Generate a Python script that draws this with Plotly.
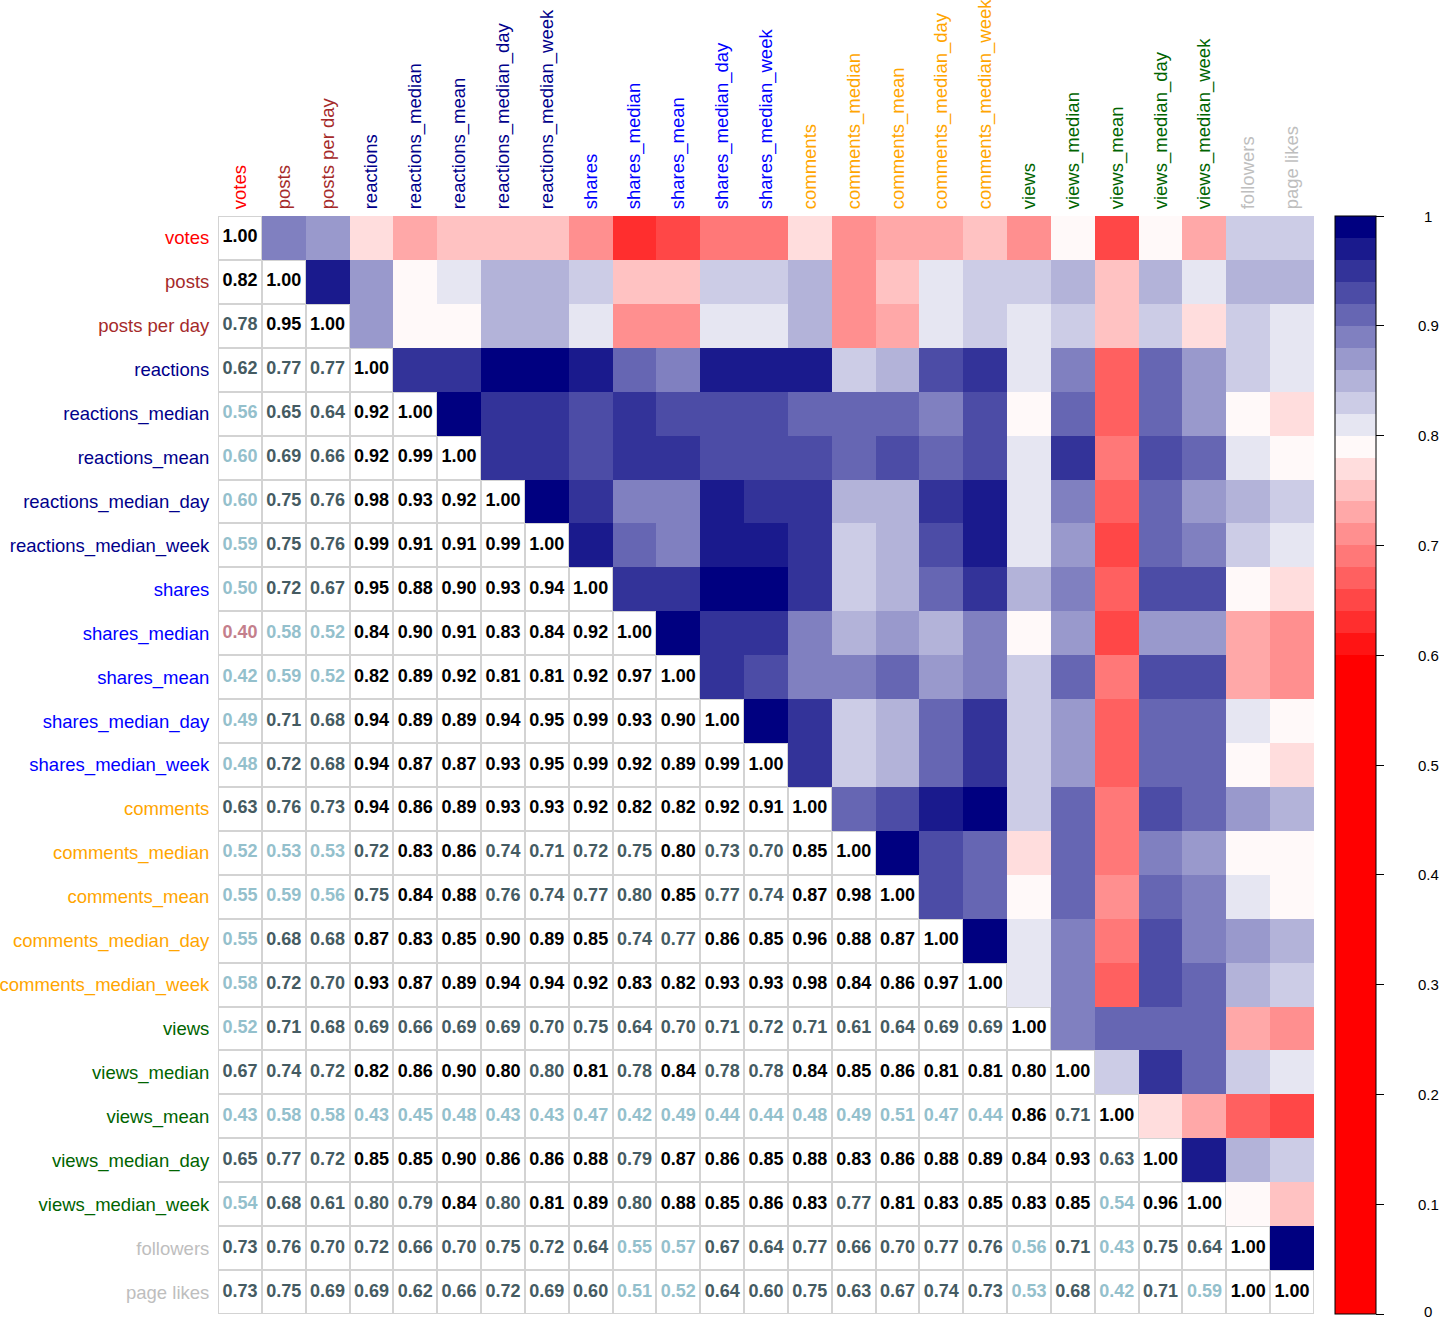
import plotly.graph_objects as go

# ---------------- data ----------------
labels = ["votes", "posts", "posts per day", "reactions", "reactions_median", "reactions_mean",
          "reactions_median_day", "reactions_median_week", "shares", "shares_median", "shares_mean",
          "shares_median_day", "shares_median_week", "comments", "comments_median", "comments_mean",
          "comments_median_day", "comments_median_week", "views", "views_median", "views_mean",
          "views_median_day", "views_median_week", "followers", "page likes"]

groups = ["votes", "posts", "posts",
          "reactions", "reactions", "reactions", "reactions", "reactions",
          "shares", "shares", "shares", "shares", "shares",
          "comments", "comments", "comments", "comments", "comments",
          "views", "views", "views", "views", "views",
          "page", "page"]

# lower triangle (row i, columns 0..i-1): printed coefficients
lower = [
    [],
    [0.82],
    [0.78, 0.95],
    [0.62, 0.77, 0.77],
    [0.56, 0.65, 0.64, 0.92],
    [0.598, 0.69, 0.66, 0.92, 0.99],
    [0.598, 0.75, 0.76, 0.98, 0.93, 0.92],
    [0.59, 0.75, 0.76, 0.99, 0.91, 0.91, 0.99],
    [0.50, 0.72, 0.67, 0.95, 0.88, 0.90, 0.93, 0.94],
    [0.398, 0.58, 0.52, 0.84, 0.90, 0.91, 0.83, 0.84, 0.92],
    [0.42, 0.59, 0.52, 0.82, 0.89, 0.92, 0.81, 0.81, 0.92, 0.97],
    [0.49, 0.71, 0.68, 0.94, 0.89, 0.89, 0.94, 0.95, 0.99, 0.93, 0.90],
    [0.48, 0.72, 0.68, 0.94, 0.87, 0.87, 0.93, 0.95, 0.99, 0.92, 0.89, 0.99],
    [0.63, 0.76, 0.73, 0.94, 0.86, 0.89, 0.93, 0.93, 0.92, 0.82, 0.82, 0.92, 0.91],
    [0.52, 0.53, 0.53, 0.72, 0.83, 0.86, 0.74, 0.71, 0.72, 0.75, 0.802, 0.73, 0.70, 0.85],
    [0.55, 0.59, 0.56, 0.75, 0.84, 0.88, 0.76, 0.74, 0.77, 0.798, 0.85, 0.77, 0.74, 0.87, 0.98],
    [0.55, 0.68, 0.68, 0.87, 0.83, 0.85, 0.90, 0.89, 0.85, 0.74, 0.77, 0.86, 0.85, 0.96, 0.88, 0.87],
    [0.58, 0.72, 0.70, 0.93, 0.87, 0.89, 0.94, 0.94, 0.92, 0.83, 0.82, 0.93, 0.93, 0.98, 0.84, 0.86, 0.97],
    [0.52, 0.71, 0.68, 0.69, 0.66, 0.69, 0.69, 0.70, 0.75, 0.64, 0.70, 0.71, 0.72, 0.71, 0.61, 0.64, 0.69, 0.69],
    [0.67, 0.74, 0.72, 0.82, 0.86, 0.90, 0.802, 0.798, 0.81, 0.78, 0.84, 0.78, 0.78, 0.84, 0.85, 0.86, 0.81, 0.81, 0.801],
    [0.43, 0.58, 0.58, 0.43, 0.45, 0.48, 0.43, 0.43, 0.47, 0.42, 0.49, 0.44, 0.44, 0.48, 0.49, 0.51, 0.47, 0.44, 0.86, 0.71],
    [0.65, 0.77, 0.72, 0.85, 0.85, 0.90, 0.86, 0.86, 0.88, 0.79, 0.87, 0.86, 0.85, 0.88, 0.83, 0.86, 0.88, 0.89, 0.84, 0.93, 0.63],
    [0.54, 0.68, 0.61, 0.798, 0.79, 0.84, 0.798, 0.81, 0.89, 0.798, 0.88, 0.85, 0.86, 0.83, 0.77, 0.81, 0.83, 0.85, 0.83, 0.85, 0.54, 0.96],
    [0.73, 0.76, 0.70, 0.72, 0.66, 0.70, 0.75, 0.72, 0.64, 0.55, 0.57, 0.67, 0.64, 0.77, 0.66, 0.70, 0.77, 0.76, 0.56, 0.71, 0.43, 0.75, 0.64],
    [0.73, 0.75, 0.69, 0.69, 0.62, 0.66, 0.72, 0.69, 0.602, 0.51, 0.52, 0.64, 0.602, 0.75, 0.63, 0.67, 0.74, 0.73, 0.53, 0.68, 0.42, 0.71, 0.59, 1.00],
]

diagonal = [1.00] * 25

# upper triangle (row i, columns i+1..24): coefficients shown as colour tiles
upper = [
    [0.89, 0.87, 0.77, 0.73, 0.75, 0.75, 0.75, 0.71, 0.63, 0.65, 0.69, 0.69, 0.77, 0.71, 0.73, 0.73, 0.75, 0.71, 0.79, 0.65, 0.79, 0.73, 0.83, 0.83],
    [0.97, 0.87, 0.79, 0.81, 0.85, 0.85, 0.83, 0.75, 0.75, 0.83, 0.83, 0.85, 0.71, 0.75, 0.81, 0.83, 0.83, 0.85, 0.75, 0.85, 0.81, 0.85, 0.85],
    [0.87, 0.79, 0.79, 0.85, 0.85, 0.81, 0.71, 0.71, 0.81, 0.81, 0.85, 0.71, 0.73, 0.81, 0.83, 0.81, 0.83, 0.75, 0.83, 0.77, 0.83, 0.81],
    [0.95, 0.95, 0.99, 0.99, 0.97, 0.91, 0.89, 0.97, 0.97, 0.97, 0.83, 0.85, 0.93, 0.95, 0.81, 0.89, 0.67, 0.91, 0.87, 0.83, 0.81],
    [0.99, 0.95, 0.95, 0.93, 0.95, 0.93, 0.93, 0.93, 0.91, 0.91, 0.91, 0.89, 0.93, 0.79, 0.91, 0.67, 0.91, 0.87, 0.79, 0.77],
    [0.95, 0.95, 0.93, 0.95, 0.95, 0.93, 0.93, 0.93, 0.91, 0.93, 0.91, 0.93, 0.81, 0.95, 0.69, 0.93, 0.91, 0.81, 0.79],
    [0.99, 0.95, 0.89, 0.89, 0.97, 0.95, 0.95, 0.85, 0.85, 0.95, 0.97, 0.81, 0.89, 0.67, 0.91, 0.87, 0.85, 0.83],
    [0.97, 0.91, 0.89, 0.97, 0.97, 0.95, 0.83, 0.85, 0.93, 0.97, 0.81, 0.87, 0.65, 0.91, 0.89, 0.83, 0.81],
    [0.95, 0.95, 0.99, 0.99, 0.95, 0.83, 0.85, 0.91, 0.95, 0.85, 0.89, 0.67, 0.93, 0.93, 0.79, 0.77],
    [0.99, 0.95, 0.95, 0.89, 0.85, 0.87, 0.85, 0.89, 0.79, 0.87, 0.65, 0.87, 0.87, 0.73, 0.71],
    [0.95, 0.93, 0.89, 0.89, 0.91, 0.87, 0.89, 0.83, 0.91, 0.69, 0.93, 0.93, 0.73, 0.71],
    [0.99, 0.95, 0.83, 0.85, 0.91, 0.95, 0.83, 0.87, 0.67, 0.91, 0.91, 0.81, 0.79],
    [0.95, 0.83, 0.85, 0.91, 0.95, 0.83, 0.87, 0.67, 0.91, 0.91, 0.79, 0.77],
    [0.91, 0.93, 0.97, 0.99, 0.83, 0.91, 0.69, 0.93, 0.91, 0.87, 0.85],
    [0.99, 0.93, 0.91, 0.77, 0.91, 0.69, 0.89, 0.87, 0.79, 0.79],
    [0.93, 0.91, 0.79, 0.91, 0.71, 0.91, 0.89, 0.81, 0.79],
    [0.99, 0.81, 0.89, 0.69, 0.93, 0.89, 0.87, 0.85],
    [0.81, 0.89, 0.67, 0.93, 0.91, 0.85, 0.83],
    [0.89, 0.91, 0.91, 0.91, 0.73, 0.71],
    [0.83, 0.95, 0.91, 0.83, 0.81],
    [0.77, 0.73, 0.67, 0.65],
    [0.97, 0.85, 0.83],
    [0.79, 0.75],
    [0.99],
    [],
]

colorbar_ticks = [0, 0.1, 0.2, 0.3, 0.4, 0.5, 0.6, 0.7, 0.8, 0.9, 1]

# ---------------- styles ----------------
FONT = "Liberation Sans, Arial, sans-serif"
group_colors = {"votes": "#FF0000", "posts": "#A52A2A", "reactions": "#00008B",
                "shares": "#0000FF", "comments": "#FFA500", "views": "#006400",
                "page": "#BEBEBE"}
reds = ["#FF1414", "#FF2E2E", "#FF4747", "#FF6060", "#FF7878",
        "#FF8F8F", "#FFA8A8", "#FFC2C2", "#FFDDDD", "#FFF9F9"]
blues = ["#E6E6F2", "#CCCCE6", "#B3B3D9", "#9999CC", "#8080C0",
         "#6666B3", "#4C4CA6", "#333399", "#1A1A8D", "#000080"]
colorscale = [[0.0, "#FF0000"], [0.6, "#FF0000"]]
for k, c in enumerate(reds + blues):
    lo = round(0.6 + 0.02 * k, 4)
    hi = round(lo + 0.02, 4)
    colorscale.append([lo, c])
    colorscale.append([hi, c])


def num_color(v):
    if v >= 0.8:
        return "#000000"
    if v >= 0.6:
        return "#455B62"
    if v >= 0.4:
        return "#94C0CC"
    return "#C47F8C"


n = len(labels)
idx = list(range(n))

# figure geometry (body margin removed in the page)
W, H = 1439, 1320
L, T = 218, 216
PW, PH = 1096, 1098
R = W - L - PW
B = H - T - PH

z_upper = [[None] * n for _ in range(n)]
for i, row in enumerate(upper):
    for k, v in enumerate(row):
        z_upper[i][i + 1 + k] = v

z_lower = [[(1 if j <= i else None) for j in range(n)] for i in range(n)]

fig = go.Figure()

fig.add_trace(go.Heatmap(
    x=idx, y=idx, z=z_lower, colorscale=[[0, "white"], [1, "white"]],
    showscale=False, xgap=2, ygap=2, hoverinfo="skip", zmin=0, zmax=1))

fig.add_trace(go.Heatmap(
    x=idx, y=idx, z=z_upper, colorscale=colorscale, zmin=0, zmax=1,
    hovertemplate="%{z:.2f}<extra></extra>",
    colorbar=dict(
        thickness=41, thicknessmode="pixels", len=1, lenmode="fraction",
        y=0.5, yanchor="middle", ypad=0, x=(1335 - L) / PW, xanchor="left", xpad=0,
        outlinewidth=1, outlinecolor="black",
        tickmode="array", tickvals=colorbar_ticks, ticks="outside", ticklen=8,
        tickcolor="black", showticklabels=False)))

buckets = {}
for i in range(n):
    vals = list(lower[i]) + [diagonal[i]]
    for j, v in enumerate(vals):
        c = num_color(v)
        buckets.setdefault(c, ([], [], []))
        buckets[c][0].append(j)
        buckets[c][1].append(i)
        buckets[c][2].append(f"{v:.2f}")

for c, (xs, ys, ts) in buckets.items():
    fig.add_trace(go.Scatter(
        x=xs, y=ys, text=ts, mode="text", showlegend=False, hoverinfo="skip",
        cliponaxis=False,
        textfont=dict(family=FONT, size=18, color=c, weight="bold")))

ticktext = [f'<span style="color:{group_colors[g]}">{lab}</span>' for lab, g in zip(labels, groups)]

fig.update_layout(
    width=W, height=H,
    margin=dict(l=L, r=R, t=T, b=B, autoexpand=False),
    paper_bgcolor="white", plot_bgcolor="#D3D3D3",
    showlegend=False,
    font=dict(family=FONT, size=18, color="black"),
    xaxis=dict(range=[-0.5, n - 0.5], side="top", tickmode="array", tickvals=idx,
               ticktext=ticktext, tickangle=-90, showgrid=False, zeroline=False,
               ticks="outside", ticklen=2, tickcolor="rgba(0,0,0,0)", automargin=False,
               tickfont=dict(family=FONT, size=18.5), fixedrange=True),
    yaxis=dict(range=[n - 0.5, -0.5], tickmode="array", tickvals=idx,
               ticktext=ticktext, showgrid=False, zeroline=False,
               ticks="outside", ticklen=4, tickcolor="rgba(0,0,0,0)", automargin=False,
               tickfont=dict(family=FONT, size=18.5), fixedrange=True),
)

for t in colorbar_ticks:
    fig.add_annotation(x=(1428 - L) / PW, y=t, xref="paper", yref="paper",
                       text=f"{t:g}", showarrow=False, xanchor="center", yanchor="middle",
                       yshift=(3 if t == 0 else 0),
                       font=dict(family=FONT, size=15, color="black"))

fig.write_html("out.html", config={"displayModeBar": False},
               post_script="document.body.style.margin='0';document.body.style.overflow='hidden';")
